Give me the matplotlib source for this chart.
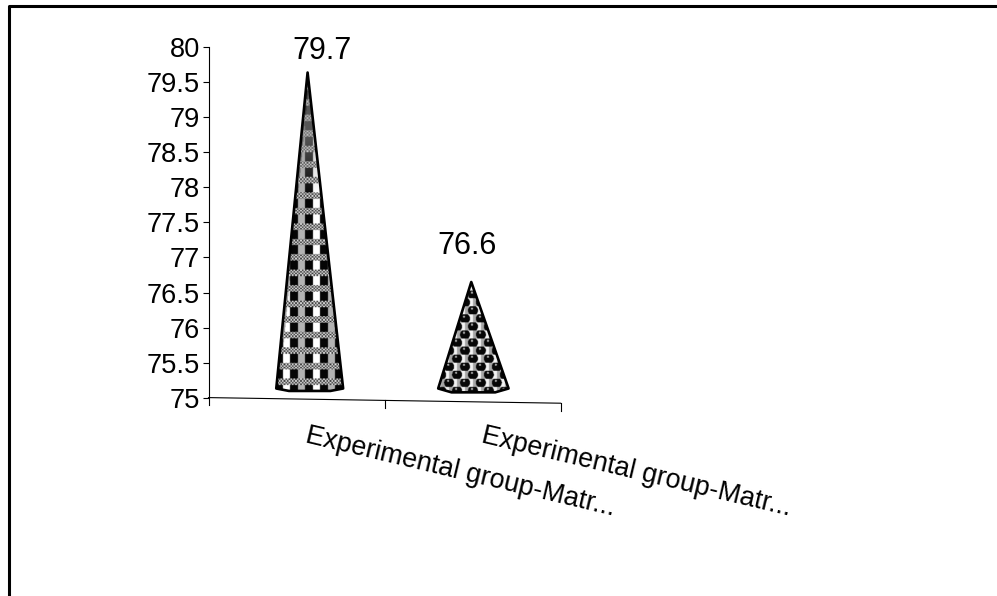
import matplotlib
matplotlib.use("Agg")
import matplotlib.pyplot as plt
import numpy as np
from matplotlib.patches import Polygon
from matplotlib.lines import Line2D

plt.rcParams["font.family"] = ["Liberation Sans", "DejaVu Sans"]

categories = ["Experimental group-Matr...", "Experimental group-Matr..."]
values = [79.7, 76.6]
yticks = [75, 75.5, 76, 76.5, 77, 77.5, 78, 78.5, 79, 79.5, 80]
ytick_labels = ["75", "75.5", "76", "76.5", "77", "77.5", "78", "78.5", "79", "79.5", "80"]

W, H = 997, 596
FS = 19.6
BASE = 75.15   # where the cones stand

fig = plt.figure(figsize=(W / 100, H / 100), dpi=100, facecolor="white")
ax = fig.add_axes([208.5 / W, 1 - 397.6 / H, 352 / W, 350.3 / H])
ax.set_xlim(0, 2)
ax.set_ylim(75, 80)
ax.patch.set_alpha(0)
for s in ["top", "right", "bottom"]:
    ax.spines[s].set_visible(False)
ax.spines["left"].set_linewidth(0.8)
ax.spines["left"].set_bounds(74.9, 80)
ax.set_yticks(yticks)
ax.set_yticklabels(ytick_labels, fontsize=FS)
ax.set_xticks([])
ax.tick_params(axis="y", length=4.6, width=0.8, pad=1.5)

PX = 176.0      # pixels per category
PY = 350.3 / 5  # pixels per unit of value


def tex_columns(xp, yp, half):
    # black and pale columns crossed by dotted bands
    img = np.where(((xp + 5) % 15) < 8, 0.02, 1.0)
    light = 1.0 - 0.3 * (((xp + 5) % 30) > 15)
    img = np.where(img > 0.5, light, img)
    band = ((yp - 2) % 15.5) < 6.5
    dots = 0.55 + 0.35 * np.sign(np.sin(xp * 1.9) * np.sin(yp * 1.9))
    img = np.where(band, dots, img)
    # the tip fades to grey, as the fine pattern blurs there
    fade = np.clip((yp - 190) / 60, 0, 1) * 0.55
    img = img * (1 - fade) + 0.6 * fade
    edge = np.abs(xp / np.maximum(half, 1))
    return np.where((edge > 0.92) & ~band, img * 0.6, img)


def tex_balls(xp, yp, half):
    # grey and white checks with dark balls on a staggered grid
    img = np.where(((xp % 16) < 8) ^ ((yp % 16) < 8), 0.95, 0.65)
    row = np.floor(yp / 8)
    xs = xp + 8 * (row % 2)
    dx = (xs % 16) - 8
    dy = (yp % 8) - 4
    r = np.hypot(dx, dy)
    img = np.where(r < 5.0, 0.03, img)
    img = np.where(np.hypot(dx + 1, dy - 1.8) < 1.1, 0.7, img)
    return img


textures = [tex_columns, tex_balls]
centers = [0.575, 1.505]
half_widths = [0.19, 0.2]
tip_adjust = [-0.06, 0.05]
foot = [0.055, 0.075]
label_offsets = [(12, 17), (-6, 40)]

for i, v in enumerate(values):
    xc = centers[i]
    hw = half_widths[i]
    tip = v + tip_adjust[i]
    outline = [(xc - 0.012, tip), (xc + hw, BASE - 0.02),
               (xc + hw * 0.62, BASE - foot[i]), (xc - hw * 0.62, BASE - foot[i]),
               (xc - hw, BASE - 0.02)]
    w_px = int(2 * hw * PX) + 4
    h_px = int((tip - BASE) * PY) + 12
    # pattern raster at 2x, in pixel units measured from the cone centre and base
    xp, yp = np.meshgrid(np.linspace(-w_px / 2, w_px / 2, w_px * 2),
                         np.linspace((tip - BASE) * PY + 2, -10, h_px * 2))
    half = hw * PX * (1 - np.clip(yp / ((tip - BASE) * PY), 0, 1))
    img = textures[i](xp, yp, half)
    poly = Polygon(outline, closed=True, fc="none", ec="black", lw=1.9, joinstyle="round", zorder=3)
    ax.add_patch(poly)
    im = ax.imshow(img, cmap="gray", vmin=0, vmax=1, aspect="auto", interpolation="bilinear",
                   extent=[xc - w_px / 2 / PX, xc + w_px / 2 / PX, BASE - 10 / PY, tip + 2 / PY],
                   zorder=2)
    im.set_clip_path(poly)
    ax.annotate(f"{v}", (xc, v), xytext=(label_offsets[i][0] * 0.72, label_offsets[i][1] * 0.72),
                textcoords="offset points", ha="center", va="center", fontsize=22, annotation_clip=False)

ax.set_xlim(0, 2)
ax.set_ylim(75, 80)

# slanted category axis
ax.plot([0, 2], [75, 74.92], color="black", lw=0.8, clip_on=False, zorder=1)
for x, y0 in [(1, 74.96), (2, 74.92)]:
    ax.plot([x, x], [y0, y0 - 0.11], color="black", lw=0.8, clip_on=False, zorder=1)

for i, name in enumerate(categories):
    ax.annotate(name, (i + 0.5, 75), xytext=(7, -27), textcoords="offset points",
                rotation=-13.4, rotation_mode="anchor", ha="left", va="center",
                fontsize=19.4, annotation_clip=False)

# frame, open on the right and at the bottom
fig.add_artist(Line2D([8.5 / W, 8.5 / W, 1], [0, 1 - 5.5 / H, 1 - 5.5 / H],
                      color="black", lw=2.2, transform=fig.transFigure))

fig.savefig("out.png", dpi=100, facecolor="white")
